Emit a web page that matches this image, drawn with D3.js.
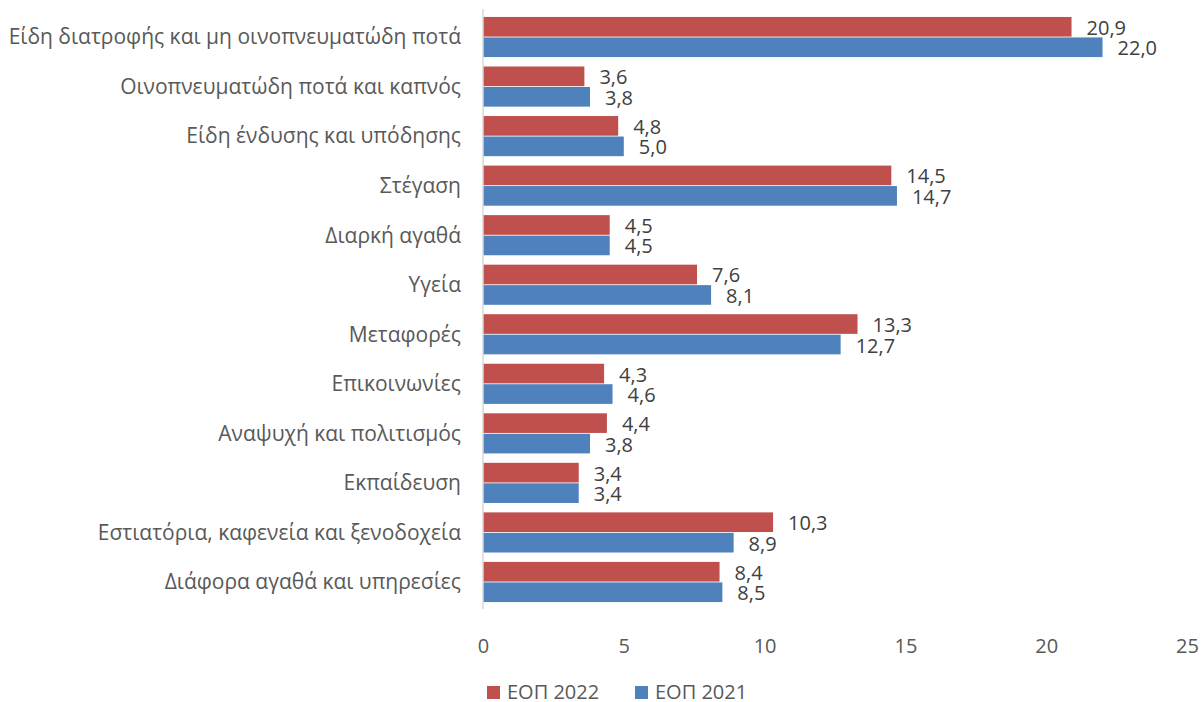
<!DOCTYPE html>
<html>
<head>
<meta charset="utf-8">
<script src="https://cdn.jsdelivr.net/npm/d3@7"></script>
<style>
  body { margin: 0; background: #fff; }
  text { font-family: "Open Sans", sans-serif; }
</style>
</head>
<body>
<svg id="chart" width="1202" height="702"></svg>
<script>
const categories = [
  "Είδη διατροφής και μη οινοπνευματώδη ποτά",
  "Οινοπνευματώδη ποτά και καπνός",
  "Είδη ένδυσης και υπόδησης",
  "Στέγαση",
  "Διαρκή αγαθά",
  "Υγεία",
  "Μεταφορές",
  "Επικοινωνίες",
  "Αναψυχή και πολιτισμός",
  "Εκπαίδευση",
  "Εστιατόρια, καφενεία  και ξενοδοχεία",
  "Διάφορα αγαθά και υπηρεσίες"
];
const seriesNames = ["ΕΟΠ 2022", "ΕΟΠ 2021"];
const values2022 = [20.9, 3.6, 4.8, 14.5, 4.5, 7.6, 13.3, 4.3, 4.4, 3.4, 10.3, 8.4];
const values2021 = [22.0, 3.8, 5.0, 14.7, 4.5, 8.1, 12.7, 4.6, 3.8, 3.4, 8.9, 8.5];
const xTicks = [0, 5, 10, 15, 20, 25];

const colors = ["#C0504D", "#4F81BD"];
const svg = d3.select("#chart");
const margin = { top: 12, left: 483, right: 15, bottom: 95 };
const height = 702 - margin.top - margin.bottom;
const chart = svg.append("g").attr("transform", `translate(${margin.left},${margin.top})`);

const x = d3.scaleLinear().domain([0, 25]).range([0, 704]);
const y = d3.scaleBand().domain(categories).range([0, height]).paddingInner(0.19).paddingOuter(0.1);
const ySeries = d3.scaleBand().domain(seriesNames).range([0, y.bandwidth()]).paddingInner(0.04);

const rows = categories.map((c, i) => ({ cat: c, vals: [values2022[i], values2021[i]] }));

const groups = chart.selectAll(".row").data(rows).join("g")
  .attr("transform", d => `translate(0,${y(d.cat)})`);

groups.selectAll("rect").data(d => d.vals.map((v, j) => ({ v, s: seriesNames[j], j })))
  .join("rect")
  .attr("x", 0)
  .attr("y", d => ySeries(d.s))
  .attr("width", d => x(d.v))
  .attr("height", ySeries.bandwidth())
  .attr("fill", d => colors[d.j]);

groups.selectAll(".lbl").data(d => d.vals.map((v, j) => ({ v, s: seriesNames[j], j })))
  .join("text")
  .attr("class", "lbl")
  .attr("x", d => x(d.v) + 15)
  .attr("y", d => ySeries(d.s) + ySeries.bandwidth() / 2 + 1)
  .attr("dy", "0.35em")
  .attr("fill", "#404040")
  .style("font-size", "20px")
  .text(d => d3.format(".1f")(d.v).replace(".", ","));

// category labels
chart.selectAll(".cat").data(categories).join("text")
  .attr("class", "cat")
  .attr("x", -22)
  .attr("y", d => y(d) + y.bandwidth() / 2)
  .attr("dy", "0.35em")
  .attr("text-anchor", "end")
  .attr("fill", "#595959")
  .style("font-size", "21px")
  .text(d => d);

// vertical axis line
chart.append("line")
  .attr("x1", 0).attr("x2", 0)
  .attr("y1", -3).attr("y2", height + 2)
  .attr("stroke", "#d9d9d9").attr("stroke-width", 1.5);

// x tick labels
const xAxis = chart.append("g").attr("transform", `translate(0,${height + 32})`)
  .call(d3.axisBottom(x).tickValues(xTicks).tickSize(0).tickPadding(0));
xAxis.select(".domain").remove();
xAxis.selectAll("text")
  .attr("fill", "#595959")
  .style("font-size", "20px")
  .style("font-family", "'Open Sans', sans-serif");

// legend
const legend = svg.append("g").attr("transform", "translate(487,686)");
const items = legend.selectAll("g").data(seriesNames).join("g")
  .attr("transform", (d, i) => `translate(${i * 148},0)`);
items.append("rect").attr("width", 13).attr("height", 13).attr("fill", (d, i) => colors[i]);
items.append("text")
  .attr("x", 20).attr("y", 6).attr("dy", "0.35em")
  .attr("fill", "#595959")
  .style("font-size", "20px")
  .text(d => d);
</script>
</body>
</html>
